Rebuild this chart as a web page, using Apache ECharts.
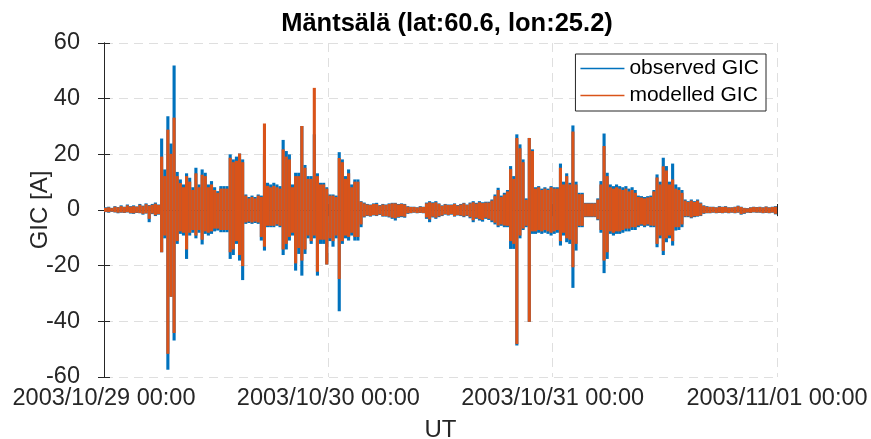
<!DOCTYPE html>
<html>
<head>
<meta charset="utf-8">
<script src="https://cdn.jsdelivr.net/npm/echarts@6/dist/echarts.min.js"></script>
<style>
html,body{margin:0;padding:0;background:#fff;}
#chart{width:871px;height:439px;}
</style>
</head>
<body>
<div id="chart"></div>
<script>
// Tick labels of the time axis (hours since 2003/10/29 00:00 UT)
var xTickLabels = ['2003/10/29 00:00', '2003/10/30 00:00', '2003/10/31 00:00', '2003/11/01 00:00'];
var binHours = 1 / 3; // 20-minute bins

// Observed GIC envelope per 20-min bin (max / min), one row per hour
var obsMax = [
0.8,1.0,0.6, 1.2,0.9,1.5, 1.0,1.8,1.2, 1.5,1.1,2.0, 1.4,2.2,1.6, 2.0,2.5,1.8,
25.5,14.4,33.5, 23.7,51.7,13.5, 10.8,9,13, 11.4,8,15, 9,14.4,13.2, 9,10.2,8,
6.6,8.4,8.4, 8.4,19.8,18, 19,20.1,18, 5.4,4.5,5, 4.5,5.4,5, 19.4,9.6,9,
9.6,9,8.4, 25,21,19.8, 9,13.2,13.2, 30,16,12, 12,27,13, 9.6,9.6,8,
5.4,5.4,5, 20.6,18,12, 14.4,9,10.8, 10.8,3,2.5, 2,1.8,2.2, 2.4,1.6,2,
1.8,2.2,2.4, 2.4,2,2.2, 2,1.2,1, 1,0.8,1.2, 1,2.5,3, 2.6,3,2.2,
1.5,2,1.8, 1.8,2.2,1.6, 2,2.4,1.8, 2.5,3,2.4, 3,2.6,2.8, 2.8,3.6,5.4,
7.8,5,6, 7,15.6,12, 27,23.4,18, 4,25.7,21.6, 8,8.4,7.5, 8,7.5,8.4,
8,8,16.5, 10,13,9.6, 30.2,10,6, 6,2.4,2.4, 2.4,2.4,4, 10.2,27.3,13.2,
9,8.4,9, 8.4,8,8.4, 7.5,8,7, 5,4.8,4.5, 4.8,5,7, 12.6,10,18.6,
15.6,10,16.5, 9,8,7, 3.6,3,3.6, 3,3.6,2.5, 1.5,1.2,1, 1,0.8,1.2,
1,1.2,0.8, 0.8,1,1.4, 1,0.6,0.5, 0.8,1,0.9, 1,0.8,1.1, 0.8,1,1.2
];
var obsMin = [
-0.6,-0.8,-0.5, -0.7,-1.0,-0.8, -0.9,-0.7,-1.1, -1.2,-0.9,-1.0, -1.5,-1.1,-4.2, -1.3,-2.0,-1.5,
-15,-10,-57.2, -31,-46.7,-12, -8.4,-9,-17.4, -9,-8,-10, -8,-12.2,-8.4, -9,-8.4,-7.5,
-7.2,-7.8,-7.8, -7.8,-17.4,-16, -12,-18,-25, -4.8,-4.5,-4.8, -4.5,-4.8,-10.8, -14.4,-6,-6,
-6,-5.5,-6, -16,-14,-10.8, -9,-21.6,-15.6, -23.4,-15.6,-10, -12,-10,-23.4, -12,-12,-19.4,
-11,-13,-10, -36.2,-12,-10, -10.8,-9,-10.8, -10.8,-6,-2.5, -2,-2.2,-1.8, -2,-1.6,-2.2,
-2.2,-2.5,-3, -3.6,-2.6,-2.4, -2.6,-1.2,-1, -0.8,-1,-0.9, -1,-3,-4.2, -2.5,-3,-2.4,
-2,-1.5,-1.8, -1.5,-2.2,-1.8, -2,-2.4,-2, -2.8,-4.2,-3, -3.6,-4,-3, -3.4,-4.2,-5,
-6,-5.5,-6, -6,-13.8,-13.8, -48.5,-10,-7, -6,-40,-8.4, -8.4,-8,-8.4, -8,-8.4,-9,
-8.4,-8,-12.6, -9,-11.4,-12, -27.8,-14.4,-6, -6,-2.4,-2.4, -2.4,-2.4,-3.5, -8,-22.5,-17.4,
-8.4,-9,-8.4, -8.4,-8,-7.5, -7.5,-7,-7, -6,-5.5,-6, -5.5,-6,-6, -13.2,-10,-16,
-11.4,-10,-12.6, -7.2,-7,-6, -2.4,-2.4,-2.8, -2.4,-2.2,-2, -1.2,-1,-1, -0.8,-1,-0.9,
-1,-0.8,-1, -0.8,-1,-0.8, -1.5,-1.2,-0.8, -0.9,-0.7,-0.8, -0.8,-1,-0.9, -1,-0.8,-1.4
];

// Modelled GIC envelope per 20-min bin (max / min)
var modMax = [
0.6,0.8,0.5, 1.0,0.8,1.2, 0.9,1.5,1.0, 1.2,1.0,1.7, 1.2,1.9,1.4, 1.7,2.1,1.6,
19,12,28.7, 20,33,12, 9.5,8,12, 10,7,13, 8,12.5,12, 8,9,7,
6,7.5,7.5, 7.5,18.6,17, 17.5,20.1,17, 5,4,4.5, 4,5,4.5, 30.9,8.5,8,
8.5,8,7.5, 21.6,19,18, 8,12,12, 30,15,11, 11,43.7,12, 9,9,7.5,
5,5,4.5, 18.5,17,11, 13,8,10, 10,2.8,2.2, 1.8,1.6,2, 2,1.4,1.8,
1.6,2,2.2, 2.2,1.8,2, 1.8,1,0.9, 0.9,0.7,1, 0.9,2.2,2.6, 2.3,2.6,2,
1.3,1.8,1.6, 1.6,2,1.4, 1.8,2.2,1.6, 2.2,2.6,2.1, 2.6,2.3,2.5, 2.5,3.2,4.8,
7,4.5,5.4, 6.5,14.5,11, 25.7,22,17, 3.5,25.7,21, 7.5,8,7, 7.5,7,8,
7.5,7.5,15, 9,12,9, 28,9,5.5, 5.5,2.2,2.2, 2.2,2.2,3.6, 9,22.8,12,
8,7.5,8, 7.5,7,7.5, 6.5,7,6, 4.5,4.3,4, 4.3,4.5,6.5, 11.5,9,15.5,
14,9,10.8, 7.5,7,6, 3.2,2.7,3.2, 2.7,3.2,2.2, 1.3,1,0.9, 0.9,0.7,1,
0.9,1,0.7, 0.7,0.9,1.2, 0.9,0.5,0.4, 0.7,0.9,0.8, 0.9,0.7,1, 0.7,0.9,1
];
var modMin = [
-0.5,-0.6,-0.4, -0.6,-0.8,-0.7, -0.8,-0.6,-0.9, -1.0,-0.8,-0.9, -1.2,-1.0,-3.0, -1.1,-1.7,-1.3,
-15,-9,-51.5, -31,-44,-11, -7.5,-8,-14, -8,-7,-9, -7,-10.5,-7.5, -8,-7.5,-6.5,
-6.5,-7,-7, -7,-15,-14, -11,-16,-20, -4.3,-4,-4.3, -4,-4.3,-9.5, -13,-5.5,-5.5,
-5.5,-5,-5.5, -14,-12,-9.5, -8,-19,-13.5, -18,-14,-9, -11,-9,-22, -10.5,-10.5,-19.4,
-10,-11,-9, -24.6,-11,-9, -9.5,-8,-9.5, -9.5,-5,-2.2, -1.8,-2,-1.6, -1.8,-1.4,-2,
-2,-2.2,-2.6, -2.8,-2.3,-2.1, -2.2,-1,-0.9, -0.7,-0.9,-0.8, -0.9,-2.5,-3.2, -2.2,-2.6,-2.1,
-1.8,-1.3,-1.6, -1.3,-2,-1.6, -1.8,-2.1,-1.8, -2.4,-3.5,-2.6, -3.1,-3.4,-2.6, -3,-3.6,-4.4,
-5.4,-5,-5.4, -5.5,-11,-12, -48,-9,-6.5, -5.5,-40,-7.5, -7.5,-7,-7.5, -7,-7.5,-8,
-7.5,-7,-11, -8,-10,-10.5, -20.4,-12,-5.5, -5.5,-2.2,-2.2, -2.2,-2.2,-3.2, -7,-18,-15,
-7.5,-8,-7.5, -7.5,-7,-6.5, -6.5,-6,-6, -5.4,-5,-5.4, -5,-5.4,-5.5, -12,-9,-14.5,
-10,-9,-11, -6,-6,-5, -2.1,-2.1,-2.5, -2.1,-2,-1.8, -1,-0.9,-0.9, -0.7,-0.9,-0.8,
-0.9,-0.7,-0.9, -0.7,-0.9,-0.7, -1.3,-1,-0.7, -0.8,-0.6,-0.7, -0.7,-0.9,-0.8, -0.9,-0.7,-1.2
];

// [bin centre (h), min, max] rows for a dense time-series drawn bin by bin
function buildBins(hi, lo) {
  var rows = [];
  for (var i = 0; i < hi.length; i++) {
    rows.push([(i + 0.5) * binHours, lo[i], hi[i]]);
  }
  return rows;
}

function makeRender(color) {
  return function (params, api) {
    var t = api.value(0);
    var pLo = api.coord([t, api.value(1)]);
    var pHi = api.coord([t, api.value(2)]);
    var w = api.size([binHours, 0])[0];
    return {
      type: 'line',
      shape: {x1: pLo[0], y1: pLo[1] + 0.5, x2: pHi[0], y2: pHi[1] - 0.5},
      style: {stroke: color, lineWidth: w}
    };
  };
}

var axisColor = '#262626';
var fontFam = '"Liberation Sans", Arial, Helvetica, sans-serif';
var obsColor = '#0072BD';
var modColor = '#D95319';
var chart = echarts.init(document.getElementById('chart'), null, {renderer: 'canvas'});

var gridDash = {show: true, lineStyle: {color: '#dfdfdf', type: [9, 6], width: 1}};

chart.setOption({
  backgroundColor: '#ffffff',
  animation: false,
  title: {
    text: 'Mäntsälä (lat:60.6, lon:25.2)',
    left: 442, textAlign: 'center', top: 6,
    textStyle: {fontFamily: fontFam, fontSize: 25.5, fontWeight: 'bold', color: '#000'}
  },
  grid: {left: 104, right: 94, top: 43, bottom: 62, containLabel: false, outerBoundsMode: 'none'},
  legend: {
    orient: 'vertical',
    right: 105, top: 54,
    backgroundColor: '#fff',
    borderColor: axisColor, borderWidth: 1,
    padding: [4, 7, 5, 5],
    itemGap: 6,
    itemWidth: 44, itemHeight: 1.5,
    icon: 'rect',
    textStyle: {fontFamily: fontFam, fontSize: 21, color: '#000'},
    data: ['observed GIC', 'modelled GIC']
  },
  xAxis: [{
    type: 'value', min: 0, max: 72, interval: 24,
    name: 'UT', nameLocation: 'middle', nameGap: 41, nameMoveOverlap: false,
    nameTextStyle: {fontFamily: fontFam, fontSize: 24, color: axisColor},
    axisLine: {show: true, lineStyle: {color: axisColor}},
    axisTick: {show: true, inside: true, length: 6, lineStyle: {color: axisColor}},
    axisLabel: {
      fontFamily: fontFam, fontSize: 23.5, color: axisColor, margin: 10,
      formatter: function (v) { return xTickLabels[Math.round(v / 24)]; }
    },
    splitLine: gridDash
  }, {
    type: 'value', min: 0, max: 72, interval: 24, position: 'top',
    axisLine: {show: true, lineStyle: {color: axisColor}},
    axisTick: {show: true, inside: true, length: 6, lineStyle: {color: axisColor}},
    axisLabel: {show: false}, splitLine: {show: false}
  }],
  yAxis: [{
    type: 'value', min: -60, max: 60, interval: 20,
    name: 'GIC [A]', nameLocation: 'middle', nameGap: 52, nameRotate: 90, nameMoveOverlap: false,
    nameTextStyle: {fontFamily: fontFam, fontSize: 24, color: axisColor},
    axisLine: {show: true, lineStyle: {color: axisColor}},
    axisTick: {show: true, inside: true, length: 6, lineStyle: {color: axisColor}},
    axisLabel: {fontFamily: fontFam, fontSize: 23.5, color: axisColor, margin: 24},
    splitLine: gridDash
  }, {
    type: 'value', min: -60, max: 60, interval: 20, position: 'right',
    axisLine: {show: true, lineStyle: {color: axisColor}},
    axisTick: {show: true, inside: true, length: 6, lineStyle: {color: axisColor}},
    axisLabel: {show: false}, splitLine: {show: false}
  }],
  series: [{
    name: 'observed GIC', type: 'custom', xAxisIndex: 0, yAxisIndex: 0,
    coordinateSystem: 'cartesian2d',
    data: buildBins(obsMax, obsMin),
    encode: {x: 0, y: [1, 2]},
    renderItem: makeRender(obsColor),
    itemStyle: {color: obsColor},
    clip: true,
    z: 2
  }, {
    name: 'modelled GIC', type: 'custom', xAxisIndex: 0, yAxisIndex: 0,
    coordinateSystem: 'cartesian2d',
    data: buildBins(modMax, modMin),
    encode: {x: 0, y: [1, 2]},
    renderItem: makeRender(modColor),
    itemStyle: {color: modColor},
    clip: true,
    z: 3
  }]
});
</script>
</body>
</html>
